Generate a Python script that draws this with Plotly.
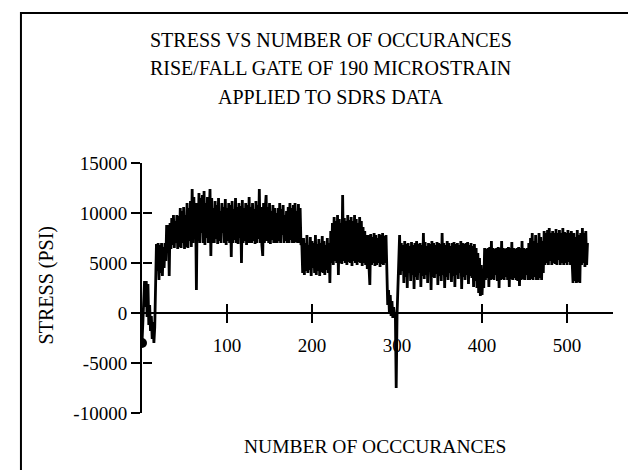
import plotly.graph_objects as go

# stress (psi) for each occurrence
stress_start = [-3000, -600, 1800, 3200, 600, 3200, -400, 2900, -1200, 800,
                -1800, -300, -2600, -900, -3000, -1400, 2800, 6900,
                4200, 7000, 3300, 6800, 4000, 7000, 3700, 6600, 4500, 7000, 5200, 8800,
                6500, 8800, 3700, 9000, 6400, 9500, 6800, 9800, 6500, 9200,
                7000, 9800, 6400, 9700, 6600,
                10500, 6500, 10200, 7000, 10600, 6400, 9800, 6600, 11000, 6500,
                10500, 7200, 11200, 6600,
                12400, 7000, 11600, 8000, 11000, 2300,
                11000, 7200, 12000, 7000, 11500, 8000, 11800, 7000, 12200, 6800,
                11000, 7500, 11600, 7000, 10800, 12400, 5700, 11500, 7000]
stress_high = [10500, 7000, 11200, 7400, 10800, 6900, 11500, 7200, 10200, 7000,
               11000, 8000, 10600, 7000, 11400, 6800, 10500, 7200, 11000, 7000,
               10800, 5600, 11200, 7000, 10400, 7300, 11500, 7000, 10600, 6900,
               11000, 7500, 10700, 5000, 11300, 7000, 10500, 7200, 11000, 6800,
               10800, 7000, 11600, 7000,
               10600, 7000, 11000, 7200, 10400, 6900, 11200, 7000, 10800, 7400,
               12400, 7000, 10600, 6800, 5700, 11000, 7000, 10500, 11800, 7200,
               10600, 7000, 11000, 6900, 10200, 7300, 10800, 7000, 10500, 7000,
               10000, 7000, 10500, 7200, 11000, 7000, 10400, 7800, 10800, 7000,
               9800, 7200, 10200, 7000, 10600, 7000, 11000, 7300, 10500, 7000,
               10800, 7000, 11000, 7100, 10200, 7000, 10900, 7000, 10500, 6800]
stress_mid = [6900, 4000, 7500, 3800, 7000, 4200, 7800, 4000, 6800, 4300,
              7600, 3700, 7200, 4500, 7000, 4000, 7800, 3800, 6900, 4200,
              7400, 3700, 7000, 4100, 7700, 4000, 7200, 3800, 6800, 4300,
              7500, 4000, 7000,
              3000, 8200, 5000, 9000, 4800, 9600, 5200, 9200, 5000, 9800,
              3800, 9400, 5000, 9000, 4900, 11800, 5200, 9500, 5000, 9200,
              4800, 9800, 5100, 9300, 5000, 9600, 4700, 9200, 5200, 9800,
              5000, 9400, 4800, 9000, 5100, 9600, 5000, 9200, 4700, 8600,
              5000, 8200, 4800, 7800, 4400,
              7800, 4600, 2800, 7900, 4800, 7600, 5000, 8000, 4700, 7800,
              4800, 7500, 5000, 7900, 4600, 7800, 4900, 8000, 4800, 7700,
              5000, 7800,
              2500, 800, 2300, 0, 1800, -300, 1200, -500, 600, -400,
              0, -7500, -200, 2000, 4500]
stress_low = [7800, 3800, 7000, 4200, 6800, 3000, 7200, 3600, 6900, 2500,
              7000, 4000, 6700, 3200, 7100, 3800, 6800, 2400, 7000, 3600,
              7200, 3300, 6900, 4000, 7000, 2600, 6800, 3700, 8000, 3400,
              7100, 3800, 6700, 3000, 7000, 4100, 6900, 2300, 7200, 3600,
              7000, 3500, 6800, 3900, 7100, 2800, 7000, 3700, 6900, 3200,
              8000, 3800, 7000, 2500, 6800, 3600, 7200, 3300, 7000, 4000,
              6700, 3100, 7000, 3700, 7100, 2600, 6900, 3800, 7000, 3400,
              6800, 4000, 7200, 2400, 7000, 3600, 6900, 3300, 7000, 3800,
              7100, 2900, 6800, 3700, 7000, 3500, 6700, 2600, 6900, 3200,
              6500, 2500, 6000,
              2000, 5500, 1700, 4800, 1800, 4200, 2500]
stress_end = [6500, 3300, 6400, 3500, 6500, 2600, 6600, 3300, 7200, 3400,
              6500, 3300, 6400, 3800, 6500, 3200, 6600, 2500, 6500, 3300,
              7200, 3400, 6500, 3300, 6400, 3600, 6500, 3300, 6600, 2600,
              6500, 3400, 7100, 3300, 6500, 3500, 6400, 3300, 6500, 3200,
              6600, 2700, 6500, 3300, 7200, 3400, 6500, 3300, 6400, 3800,
              6500, 3300, 7000,
              3300, 7500, 3400, 8000, 3300, 7200, 3600, 7800, 3300, 7000,
              3300, 8000, 3500, 7600, 3300, 7200, 4000, 8200,
              4800, 8000, 5000, 8300, 4800, 8500, 5200, 8000, 4800, 8200,
              5000, 8000, 4900, 8400, 4800, 8000, 5300, 8300, 4800, 8000,
              5000, 8500, 4800, 8100, 5000, 8000, 4800, 8300, 5100, 8000,
              4800, 8200, 5000, 3000, 8000, 3200, 7600, 3000, 8300, 3100,
              7800, 3000, 8000, 4800, 8500, 5000, 8000, 4600, 8200, 4800,
              7000]

stress = stress_start + stress_high + stress_mid + stress_low + stress_end
occurrence = list(range(len(stress)))

x_ticks = [100, 200, 300, 400, 500]
y_ticks = [-10000, -5000, 0, 5000, 10000, 15000]
y_tick_text = ["-10000", "-5000", "0", "5000", "10000", "15000"]
title_lines = ["STRESS VS NUMBER OF OCCURANCES",
               "RISE/FALL GATE OF 190 MICROSTRAIN",
               "APPLIED TO SDRS DATA"]

font = "Liberation Serif"
x_range = [0, 554]
y_range = [-10000, 15000]

fig = go.Figure()
fig.add_trace(go.Scatter(x=occurrence, y=stress, mode="lines",
                         line=dict(color="black", width=2.8), showlegend=False))
# first point drawn as a dot; on the overlay axes that carry the inner tick halves
fig.add_trace(go.Scatter(x=occurrence[:1], y=stress[:1], mode="markers", xaxis="x2", yaxis="y2",
                         marker=dict(color="black", size=10), showlegend=False))

for i, line in enumerate(title_lines):
    fig.add_annotation(text=line, x=0.401, y=[1.492, 1.38, 1.264][i], xref="paper", yref="paper",
                       xanchor="center", yanchor="middle", showarrow=False,
                       font=dict(family=font, size=20, color="black"))
fig.add_annotation(text="NUMBER OF OCCCURANCES", x=0.495, y=-0.132, xref="paper", yref="paper",
                   xanchor="center", yanchor="middle", showarrow=False,
                   font=dict(family=font, size=19.5, color="black"))
fig.add_annotation(text="STRESS (PSI)", x=-0.203, y=0.512, xref="paper", yref="paper",
                   xanchor="center", yanchor="middle", textangle=-90, showarrow=False,
                   font=dict(family=font, size=20, color="black"))

# frame around the whole picture
fig.add_shape(type="rect", xref="paper", yref="paper", x0=-0.257, x1=1.052, y0=-0.25, y1=1.6,
              line=dict(color="black", width=2))

axis_common = dict(showgrid=False, zeroline=False, tickwidth=2, tickcolor="black", ticklen=9)

fig.update_layout(
    width=636, height=470,
    margin=dict(l=134, r=31, t=155, b=65),
    paper_bgcolor="white", plot_bgcolor="white",
    font=dict(family=font, size=19, color="black"),
    xaxis=dict(range=x_range, tickvals=x_ticks, showline=True, linecolor="black", linewidth=2,
               ticks="outside", ticklabelstandoff=6, anchor="free", position=0.4, **axis_common),
    yaxis=dict(range=y_range, tickvals=y_ticks, ticktext=y_tick_text, showline=True,
               linecolor="black", linewidth=2, ticks="outside", **axis_common),
    xaxis2=dict(range=x_range, tickvals=x_ticks, overlaying="x", anchor="free", position=0.4,
                ticks="inside", showticklabels=False, showline=False, **axis_common),
    yaxis2=dict(range=y_range, tickvals=y_ticks, overlaying="y", anchor="free", position=0,
                ticks="inside", showticklabels=False, showline=False, **axis_common),
)

fig.write_html("out.html")
